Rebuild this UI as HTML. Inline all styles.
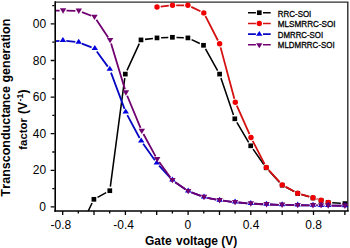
<!DOCTYPE html>
<html><head><meta charset="utf-8"><title>chart</title><style>html,body{margin:0;padding:0;background:#fff}svg{display:block}</style></head><body>
<svg width="350" height="248" viewBox="0 0 350 248" font-family="'Liberation Sans', Arial, sans-serif">
<rect width="350" height="248" fill="#fff"/>
<defs><clipPath id="c"><rect x="55.5" y="2" width="292.5" height="209"/></clipPath></defs>
<path d="M55.5 2.1H347.8V211.0" fill="none" stroke="#2c2c2c" stroke-width="1.4"/>
<g clip-path="url(#c)">
<path fill="none" stroke="#000000" stroke-width="1.55" d="M88.20 211.00L92.10 202.99M97.51 197.35L106.19 192.65M110.34 186.64L124.76 78.16M127.01 70.37L139.29 43.63M145.07 39.39L152.93 38.41M161.10 37.74L168.30 37.46M176.50 37.46L183.80 37.74M191.60 39.66L199.80 43.54M205.50 48.88L217.60 70.52M220.92 77.98L233.48 114.92M236.88 122.33L248.62 142.27M253.06 149.15L263.84 164.45M268.98 170.82L279.42 182.18M285.82 187.12L294.08 191.48M301.63 194.58L309.07 196.82M332.19 202.69L340.81 203.31"/>
<rect x="91.55" y="196.95" width="4.70" height="4.70" fill="#000000"/>
<rect x="107.45" y="188.35" width="4.70" height="4.70" fill="#000000"/>
<rect x="122.95" y="71.75" width="4.70" height="4.70" fill="#000000"/>
<rect x="138.65" y="37.55" width="4.70" height="4.70" fill="#000000"/>
<rect x="154.65" y="35.55" width="4.70" height="4.70" fill="#000000"/>
<rect x="170.05" y="34.95" width="4.70" height="4.70" fill="#000000"/>
<rect x="185.55" y="35.55" width="4.70" height="4.70" fill="#000000"/>
<rect x="201.15" y="42.95" width="4.70" height="4.70" fill="#000000"/>
<rect x="217.25" y="71.75" width="4.70" height="4.70" fill="#000000"/>
<rect x="232.45" y="116.45" width="4.70" height="4.70" fill="#000000"/>
<rect x="248.35" y="143.45" width="4.70" height="4.70" fill="#000000"/>
<rect x="263.85" y="165.45" width="4.70" height="4.70" fill="#000000"/>
<rect x="279.85" y="182.85" width="4.70" height="4.70" fill="#000000"/>
<rect x="295.35" y="191.05" width="4.70" height="4.70" fill="#000000"/>
<rect x="310.65" y="195.65" width="4.70" height="4.70" fill="#000000"/>
<rect x="318.75" y="198.15" width="4.70" height="4.70" fill="#000000"/>
<rect x="325.75" y="200.05" width="4.70" height="4.70" fill="#000000"/>
<rect x="342.55" y="201.25" width="4.70" height="4.70" fill="#000000"/>
<path fill="none" stroke="#d41010" stroke-width="1.8" d="M160.68 6.60L168.82 5.70M176.20 5.30L184.20 5.30M191.24 6.90L200.46 11.30M205.48 16.19L217.92 40.51M220.56 47.37L234.34 98.73M236.81 105.68L249.49 134.12M252.69 140.79L264.61 164.11M268.79 170.14L279.71 182.16M285.46 186.65L294.44 191.45M301.24 194.27L309.46 196.73M316.54 198.89L317.56 199.21"/>
<circle cx="157.0" cy="7.0" r="2.70" fill="#f00000"/>
<circle cx="172.5" cy="5.3" r="2.70" fill="#f00000"/>
<circle cx="187.9" cy="5.3" r="2.70" fill="#f00000"/>
<circle cx="203.8" cy="12.9" r="2.70" fill="#f00000"/>
<circle cx="219.6" cy="43.8" r="2.70" fill="#f00000"/>
<circle cx="235.3" cy="102.3" r="2.70" fill="#f00000"/>
<circle cx="251.0" cy="137.5" r="2.70" fill="#f00000"/>
<circle cx="266.3" cy="167.4" r="2.70" fill="#f00000"/>
<circle cx="282.2" cy="184.9" r="2.70" fill="#f00000"/>
<circle cx="297.7" cy="193.2" r="2.70" fill="#f00000"/>
<circle cx="313.0" cy="197.8" r="2.70" fill="#f00000"/>
<circle cx="321.1" cy="200.3" r="2.70" fill="#f00000"/>
<circle cx="328.3" cy="202.4" r="2.70" fill="#f00000"/>
<path fill="none" stroke="#0808c4" stroke-width="1.8" d="M55.50 41.10L59.51 40.83M66.28 40.97L75.32 41.98M81.86 43.60L91.64 47.45M96.80 51.45L107.80 66.65M110.99 72.59L124.51 108.91M127.31 115.10L139.59 138.00M143.16 143.78L154.84 160.32M159.09 165.61L170.11 177.69M175.19 182.14L185.41 189.26M191.39 192.39L200.81 195.91M207.33 197.78L216.27 199.62M222.97 200.71L231.73 201.79M238.49 202.50L247.41 203.30M254.20 203.77L263.20 204.23M270.00 204.51L278.70 204.79M285.50 204.97L294.30 205.13M301.10 205.24L309.60 205.36M316.40 205.44L317.70 205.46M324.50 205.55L324.80 205.55M331.60 205.64L341.50 205.76"/>
<polygon points="62.9,37.0 59.7,42.0 66.1,42.0" fill="#0000e0"/>
<polygon points="78.7,38.8 75.5,43.8 81.9,43.8" fill="#0000e0"/>
<polygon points="94.8,45.1 91.6,50.1 98.0,50.1" fill="#0000e0"/>
<polygon points="109.8,65.8 106.6,70.8 113.0,70.8" fill="#0000e0"/>
<polygon points="125.7,108.5 122.5,113.5 128.9,113.5" fill="#0000e0"/>
<polygon points="141.2,137.4 138.0,142.4 144.4,142.4" fill="#0000e0"/>
<polygon points="156.8,159.5 153.6,164.5 160.0,164.5" fill="#0000e0"/>
<polygon points="172.4,176.6 169.2,181.6 175.6,181.6" fill="#0000e0"/>
<polygon points="188.2,187.6 185.0,192.6 191.4,192.6" fill="#0000e0"/>
<polygon points="204.0,193.5 200.8,198.5 207.2,198.5" fill="#0000e0"/>
<polygon points="219.6,196.7 216.4,201.7 222.8,201.7" fill="#0000e0"/>
<polygon points="235.1,198.6 231.9,203.6 238.3,203.6" fill="#0000e0"/>
<polygon points="250.8,200.0 247.6,205.0 254.0,205.0" fill="#0000e0"/>
<polygon points="266.6,200.8 263.4,205.8 269.8,205.8" fill="#0000e0"/>
<polygon points="282.1,201.3 278.9,206.3 285.3,206.3" fill="#0000e0"/>
<polygon points="297.7,201.6 294.5,206.6 300.9,206.6" fill="#0000e0"/>
<polygon points="313.0,201.8 309.8,206.8 316.2,206.8" fill="#0000e0"/>
<polygon points="321.1,201.9 317.9,206.9 324.3,206.9" fill="#0000e0"/>
<polygon points="328.2,202.0 325.0,207.0 331.4,207.0" fill="#0000e0"/>
<polygon points="344.9,202.2 341.7,207.2 348.1,207.2" fill="#0000e0"/>
<path fill="none" stroke="#700070" stroke-width="1.8" d="M55.50 10.60L59.70 10.60M66.50 10.66L75.40 10.84M81.97 12.13L91.33 15.77M96.40 19.82L108.20 37.38M111.08 43.46L124.92 89.34M127.20 95.74L140.50 127.86M143.43 133.99L155.57 156.31M159.20 162.05L170.40 177.45M175.19 182.14L185.41 189.26M191.39 192.39L200.81 195.91M207.33 197.78L216.27 199.62M222.97 200.71L231.73 201.79M238.49 202.50L247.41 203.30M254.20 203.77L263.20 204.23M270.00 204.51L278.70 204.79M285.50 204.97L294.30 205.13M301.10 205.24L309.60 205.36M316.40 205.44L317.70 205.46M324.50 205.55L324.80 205.55M331.60 205.64L341.50 205.76"/>
<polygon points="63.1,13.7 59.9,8.3 66.3,8.3" fill="#700070"/>
<polygon points="78.8,14.0 75.6,8.6 82.0,8.6" fill="#700070"/>
<polygon points="94.5,20.1 91.3,14.7 97.7,14.7" fill="#700070"/>
<polygon points="110.1,43.3 106.9,37.9 113.3,37.9" fill="#700070"/>
<polygon points="125.9,95.7 122.7,90.3 129.1,90.3" fill="#700070"/>
<polygon points="141.8,134.1 138.6,128.7 145.0,128.7" fill="#700070"/>
<polygon points="157.2,162.4 154.0,157.0 160.4,157.0" fill="#700070"/>
<polygon points="172.4,183.3 169.2,177.9 175.6,177.9" fill="#700070"/>
<polygon points="188.2,194.3 185.0,188.9 191.4,188.9" fill="#700070"/>
<polygon points="204.0,200.2 200.8,194.8 207.2,194.8" fill="#700070"/>
<polygon points="219.6,203.4 216.4,198.0 222.8,198.0" fill="#700070"/>
<polygon points="235.1,205.3 231.9,199.9 238.3,199.9" fill="#700070"/>
<polygon points="250.8,206.7 247.6,201.3 254.0,201.3" fill="#700070"/>
<polygon points="266.6,207.5 263.4,202.1 269.8,202.1" fill="#700070"/>
<polygon points="282.1,208.0 278.9,202.6 285.3,202.6" fill="#700070"/>
<polygon points="297.7,208.3 294.5,202.9 300.9,202.9" fill="#700070"/>
<polygon points="313.0,208.5 309.8,203.1 316.2,203.1" fill="#700070"/>
<polygon points="321.1,208.6 317.9,203.2 324.3,203.2" fill="#700070"/>
<polygon points="328.2,208.7 325.0,203.3 331.4,203.3" fill="#700070"/>
<polygon points="344.9,208.9 341.7,203.5 348.1,203.5" fill="#700070"/>
</g>
<path d="M55.2 1.3V211.8" fill="none" stroke="#000" stroke-width="1.6"/><path d="M54.3 211.0H348.75" fill="none" stroke="#000" stroke-width="1.6"/>
<path d="M62.7 211.0v3.9M78.3 211.0v2.4M94.0 211.0v3.9M109.7 211.0v2.4M125.4 211.0v3.9M141.1 211.0v2.4M156.7 211.0v3.9M172.4 211.0v2.4M188.1 211.0v3.9M203.8 211.0v2.4M219.5 211.0v3.9M235.1 211.0v2.4M250.8 211.0v3.9M266.5 211.0v2.4M282.2 211.0v3.9M297.9 211.0v2.4M313.5 211.0v3.9M329.2 211.0v2.4M344.9 211.0v3.9M54.5 206.9h-3.8M54.5 188.6h-2.2M54.5 170.3h-3.8M54.5 152.0h-2.2M54.5 133.7h-3.8M54.5 115.4h-2.2M54.5 97.1h-3.8M54.5 78.8h-2.2M54.5 60.5h-3.8M54.5 42.2h-2.2M54.5 23.9h-3.8M54.5 5.6h-2.2" stroke="#000" stroke-width="1.3" fill="none"/>
<text x="60.9" y="228.9" font-size="12" text-anchor="middle">-0.8</text>
<text x="123.6" y="228.9" font-size="12" text-anchor="middle">-0.4</text>
<text x="187.8" y="228.9" font-size="12" text-anchor="middle">0</text>
<text x="251.0" y="228.9" font-size="12" text-anchor="middle">0.4</text>
<text x="313.7" y="228.9" font-size="12" text-anchor="middle">0.8</text>
<text x="45.9" y="210.9" font-size="12" text-anchor="end">0</text>
<text x="46.2" y="174.3" font-size="12" text-anchor="end">20</text>
<text x="46.2" y="137.7" font-size="12" text-anchor="end">40</text>
<text x="46.2" y="101.1" font-size="12" text-anchor="end">60</text>
<text x="46.2" y="64.5" font-size="12" text-anchor="end">80</text>
<text x="46.2" y="27.9" font-size="12" text-anchor="end">00</text>
<text x="145.0" y="244.8" font-size="12" font-weight="bold" style="font-kerning:none">Gate<tspan x="172.7"> voltage (V)</tspan></text>
<text transform="translate(10.3 196.7) rotate(-90)" font-size="12.5" font-weight="bold" style="font-kerning:none">T<tspan dx="0.4">ransconducta</tspan><tspan dx="-0.9">nce generation</tspan></text>
<text transform="translate(27.2 149.7) rotate(-90)" font-size="11.4" font-weight="bold" style="font-kerning:none">factor<tspan x="35.8" font-size="12">(V</tspan><tspan font-size="9" dx="0.4" dy="-4.3">-1</tspan><tspan font-size="12" dy="4.3">)</tspan></text>
<path d="M248.0 12.7H255.9M263.0 12.7H270.7" stroke="#000000" stroke-width="1.6"/>
<rect x="256.95" y="10.35" width="4.70" height="4.70" fill="#000000"/>
<text x="277.8" y="17.0" font-size="9" textLength="33.5" lengthAdjust="spacingAndGlyphs" stroke="#000" stroke-width="0.3">RRC-SOI</text>
<path d="M248.0 23.5H255.9M263.0 23.5H270.7" stroke="#d41010" stroke-width="1.6"/>
<circle cx="259.3" cy="23.5" r="2.70" fill="#f00000"/>
<text x="277.8" y="27.0" font-size="9" textLength="57.8" lengthAdjust="spacingAndGlyphs" stroke="#000" stroke-width="0.3">MLSMRRC-SOI</text>
<path d="M248.0 34.1H255.9M263.0 34.1H270.7" stroke="#0808c4" stroke-width="1.6"/>
<polygon points="259.3,30.9 256.1,35.8 262.5,35.8" fill="#0000e0"/>
<text x="277.8" y="37.7" font-size="9" textLength="45.3" lengthAdjust="spacingAndGlyphs" stroke="#000" stroke-width="0.3">DMRRC-SOI</text>
<path d="M248.0 44.7H255.9M263.0 44.7H270.7" stroke="#700070" stroke-width="1.6"/>
<polygon points="259.3,48.2 256.1,43.2 262.5,43.2" fill="#700070"/>
<text x="277.8" y="48.0" font-size="9" textLength="56.8" lengthAdjust="spacingAndGlyphs" stroke="#000" stroke-width="0.3">MLDMRRC-SOI</text>
</svg>
</body></html>
